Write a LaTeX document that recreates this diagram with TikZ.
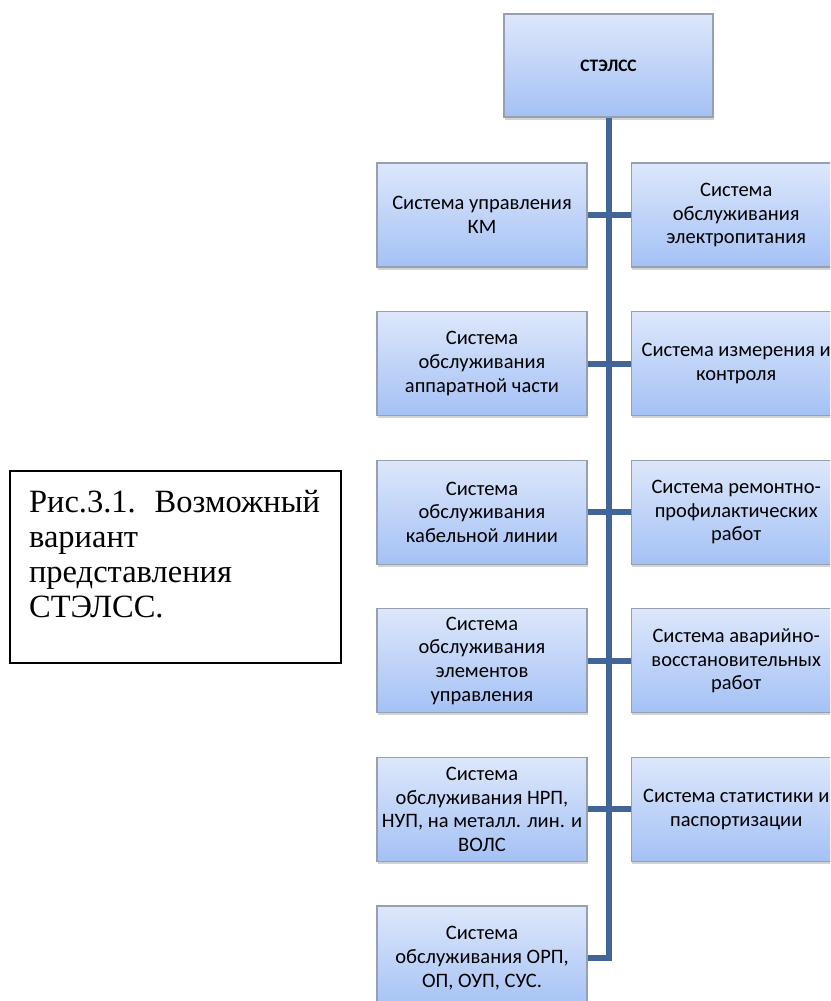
\documentclass[tikz,border=0pt]{standalone}
\usepackage{fontspec}
\setmainfont{Carlito}
\newfontfamily\capfont{Liberation Serif}
\usepackage{tikz}
\usetikzlibrary{positioning,shadows}

\definecolor{boxtop}{RGB}{221,231,251}
\definecolor{boxbot}{RGB}{164,193,245}
\definecolor{boxline}{RGB}{150,160,176}
\definecolor{linkblue}{RGB}{64,101,150}

\tikzset{
  sysbox/.style={rectangle, draw=boxline, line width=1.2pt, top color=boxtop, bottom color=boxbot,
    minimum width=210pt, minimum height=104pt, inner sep=2pt, align=center,
    font=\fontsize{20.5}{23.7}\selectfont,
    drop shadow={shadow xshift=1pt, shadow yshift=-2.5pt, opacity=0.35}},
  link/.style={draw=linkblue, line width=6pt},
  capbox/.style={rectangle, draw=black, line width=1.2pt, minimum width=331pt, minimum height=192pt},
  captxt/.style={anchor=north west, inner xsep=19.5pt, inner ysep=19.5pt, text width=291pt, align=left,
    font=\capfont\fontsize{32.5}{35}\selectfont}
}

\begin{document}
\begin{tikzpicture}[x=1pt, y=-1pt, node distance=43.4pt and 43pt]
    \path[use as bounding box, clip] (0,0) rectangle (830,1001);

    \node(ST) [sysbox, minimum width=209pt, minimum height=103pt, font=\bfseries\fontsize{17.5}{20}\selectfont] at (608.5,65.5) {СТЭЛСС};

    \node(L1) [sysbox] at (482,215) {Система управления\\КМ};
    \node(R1) [sysbox, right=of L1] {Система\\обслуживания\\электропитания};
    \node(L2) [sysbox, below=of L1] {Система\\обслуживания\\аппаратной части};
    \node(R2) [sysbox, right=of L2] {Система измерения и\\контроля};
    \node(L3) [sysbox, below=of L2] {Система\\обслуживания\\кабельной линии};
    \node(R3) [sysbox, right=of L3] {Система ремонтно-\\профилактических\\работ};
    \node(L4) [sysbox, below=of L3] {Система\\обслуживания\\элементов\\управления};
    \node(R4) [sysbox, right=of L4] {Система аварийно-\\восстановительных\\работ};
    \node(L5) [sysbox, below=of L4] {Система\\обслуживания НРП,\\НУП, на металл. лин. и\\ВОЛС};
    \node(R5) [sysbox, right=of L5] {Система статистики и\\паспортизации};
    \node(L6) [sysbox, below=of L5] {Система\\обслуживания ОРП,\\ОП, ОУП, СУС.};

    \draw [link] (ST.south) -- (ST.south |- L6.east) -- (L6.east);
    \foreach \i in {1,...,5}
      \draw [link] (L\i.east) -- (R\i.west);

    \node(CAP) [capbox] at (175.5,567) {};
    \node(CT) [captxt] at (CAP.north west) {Рис.3.1.\hfill Возможный\\вариант\\представления\\СТЭЛСС.};
\end{tikzpicture}
\end{document}
